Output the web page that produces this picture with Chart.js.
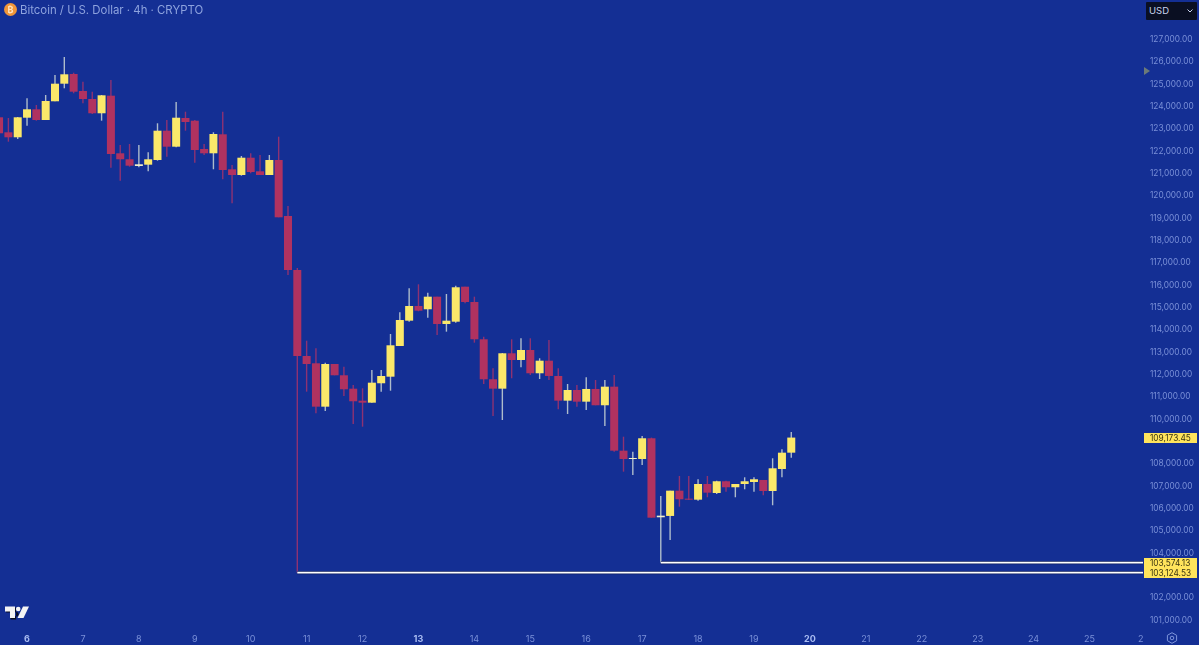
<!DOCTYPE html>
<html><head><meta charset="utf-8">
<script src="https://cdn.jsdelivr.net/npm/chart.js@4/dist/chart.umd.min.js"></script>
<style>
html,body{margin:0;padding:0;background:#142f94;width:1199px;height:645px;overflow:hidden;font-family:Inter,"Open Sans",sans-serif}
#wrap{position:relative;width:1199px;height:645px}
canvas{position:absolute;left:0;top:0}
#title{position:absolute;left:20px;top:3px;font-size:11.4px;line-height:15px;color:#8ea3de;white-space:nowrap}
#btc{position:absolute;left:4px;top:3px;width:13px;height:13px;border-radius:50%;background:#f0963a;color:#ffe3bd;font-size:9px;line-height:13px;text-align:center;font-weight:700}
#usd{position:absolute;left:1146px;top:2px;width:51px;height:18px;background:#0a0f22;color:#c9d3ee;font-size:9.5px;line-height:18px;text-indent:3px;border-radius:1px}
#usd svg{position:absolute;right:4px;top:7px}
#tri{position:absolute;left:1144px;top:67px;width:0;height:0;border-left:6px solid #6c7a78;border-top:4px solid transparent;border-bottom:4px solid transparent}
#tv{position:absolute;left:5px;top:606px}
#gear{position:absolute;left:1166px;top:632px}
</style></head><body>
<div id="wrap">
<canvas id="c" width="1199" height="645"></canvas>
<div id="btc">₿</div>
<div id="title">Bitcoin / U.S. Dollar · 4h · CRYPTO</div>
<div id="usd">USD<svg width="6" height="4" viewBox="0 0 6 4"><path d="M0.5 0.5L3 3L5.5 0.5" stroke="#c9d3ee" fill="none" stroke-width="1"/></svg></div>
<div id="tri"></div>
<svg id="tv" width="25" height="14" viewBox="0 0 25 14"><path d="M0.5 1H10.5V13H5V6H0.5Z M10.8 5.5a2.2 2.2 0 1 0 0.01 0Z" fill="#0a0f22" transform="translate(0.6,0.6)"/><path d="M0 0.5H10V12H5V5.5H0Z" fill="#f4f4f4"/><circle cx="13.2" cy="3" r="2.3" fill="#f4f4f4"/><path d="M18 0.5H24L18.5 12H12.5Z" fill="#f4f4f4"/></svg>
<svg id="gear" width="12" height="12" viewBox="0 0 12 12"><path d="M6 0.7L10.6 3.3V8.7L6 11.3L1.4 8.7V3.3Z" fill="none" stroke="#7f96dc" stroke-width="1"/><circle cx="6" cy="6" r="1.8" fill="none" stroke="#7f96dc" stroke-width="1"/></svg>
</div>
<script>
const opens=[123516,122845,122621,123498,123875,123395,124233,125021,125455,124694,124336,123696,124484,121904,121636,121336,121394,121604,122916,122200,123485,123364,122097,121904,122755,121188,120932,121707,121098,120932,121604,119097,116678,112827,112500,110557,112469,111963,111363,110826,110736,111605,111900,113275,114408,115066,114919,115483,114260,114363,115931,115245,113575,111784,111363,112948,112648,113096,112053,112617,111932,110826,111305,110781,111350,110620,111453,108587,108215,108215,109142,105604,105663,106796,106437,106392,107095,106692,107217,106948,107095,107185,107275,106782,107767,108497];
const closes=[122800,122621,123516,123875,123395,124246,125021,125442,124663,124336,123696,124501,121873,121636,121349,121412,121636,122916,122200,123498,123306,122052,121904,122768,121156,120932,121707,121067,120932,121604,119038,116678,112827,112469,110557,112469,111963,111336,110799,110736,111632,111932,113306,114439,115066,114856,115483,114260,114408,115904,115245,113575,111784,111363,112948,112648,113096,112053,112617,111932,110826,111305,110781,111350,110620,111453,108587,108215,108260,109142,105586,105676,106796,106410,106392,107095,106706,107217,106948,107095,107217,107306,106782,107798,108497,109173.45];
const highs=[123619,123485,123530,124367,124067,124515,125410,126217,125514,125110,124663,124515,125187,122276,122321,122276,121949,123248,123395,124201,123767,123395,122321,122845,123767,121380,121783,121904,121828,121828,122648,119544,116768,113512,113172,112527,112469,112348,111529,111381,112200,112200,113812,114784,115859,116038,115662,115483,115604,115975,115931,115483,113692,112277,112961,113575,113620,113620,112724,113544,112277,111573,111529,111874,111753,111753,111976,109213,108542,109245,109173,106558,106796,107454,107454,107306,107454,107243,107243,107095,107395,107395,107275,108246,108649,109424];
const lows=[122679,122424,122545,123140,123364,123395,124233,124815,124591,124143,123664,123364,121259,120677,121304,121277,121098,121573,121752,122173,122916,121483,121828,121188,120740,119665,120901,121009,120932,120932,119038,116454,103124.53,111229,110261,110364,111963,111036,109782,109661,110736,111229,111273,113275,114363,114829,114543,113768,113916,114319,115187,113423,111573,110141,109961,111829,112321,111976,111797,111753,110440,110230,110557,110409,110620,109693,108542,107646,107498,107946,105586,103574.13,104588,106079,106379,106348,106500,106648,106751,106500,106858,106751,106590,106142,107395,108273];
const dayTickPositions=[3,9,15,21,27,33,39,45,51,57,63,69,75,81,87,93,99,105,111,117,122.5];
const dayTickLabels=["6","7","8","9","10","11","12","13","14","15","16","17","18","19","20","21","22","23","24","25","2"];
const boldDayLabels=["6","13","20"];
const priceTicks=[101000,102000,103000,104000,105000,106000,107000,108000,109000,110000,111000,112000,113000,114000,115000,116000,117000,118000,119000,120000,121000,122000,123000,124000,125000,126000,127000];
const hiddenPriceTicks=[103000,109000];
const lastPrice=109173.45;
const lowMarkA=103574.13, lowMarkB=103124.53;
const lowMarkAStart=71, lowMarkBStart=32;
const priceTags=[lastPrice,lowMarkA,lowMarkB];

const xMin=0.1,xMax=122.74,yMin=100556,yMax=128769;
const RED='#b03260',YEL='#fbe86a',RWICK='#8e3272',YWICK='#aebccb',DOJI='#f3efc8';
const isUp=i=>closes[i]>=opens[i];
const fmt=v=>v.toLocaleString('en-US',{minimumFractionDigits:2,maximumFractionDigits:2});
const tagPlugin={id:'tags',afterDraw(ch){
  const c=ch.ctx,y=ch.scales.y;
  c.save();c.font='8.3px Inter';c.textBaseline='middle';c.textAlign='left';
  priceTags.forEach(v=>{
    const py=y.getPixelForValue(v);
    c.fillStyle='#ffe45c';c.fillRect(1144,Math.round(py)-5,53,10);
    c.fillStyle='#3a3410';c.fillText(fmt(v),1150,Math.round(py)+0.5);
  });
  c.restore();
}};
const noPad=a=>{a.paddingTop=0;a.paddingBottom=0;a.paddingLeft=0;a.paddingRight=0;};
const idx=opens.map((_,i)=>i);
new Chart(document.getElementById('c'),{
  data:{datasets:[
    {type:'line',order:1,data:[{x:lowMarkBStart,y:lowMarkB},{x:xMax,y:lowMarkB}],borderColor:'#ffffff',borderWidth:1.6,pointRadius:0},
    {type:'line',order:1,data:[{x:lowMarkAStart,y:lowMarkA},{x:xMax,y:lowMarkA}],borderColor:'#ffffff',borderWidth:1.6,pointRadius:0},
    {type:'line',order:2,data:[{x:lowMarkBStart,y:lowMarkB},{x:xMax,y:lowMarkB}],borderColor:'#0d1c5e',borderWidth:3.4,pointRadius:0},
    {type:'line',order:2,data:[{x:lowMarkAStart,y:lowMarkA},{x:xMax,y:lowMarkA}],borderColor:'#0d1c5e',borderWidth:3.4,pointRadius:0},
    {type:'bar',order:3,grouped:false,barThickness:8,inflateAmount:0,borderWidth:0,
     data:idx.map(i=>({x:i,y:[opens[i],closes[i]]})),
     backgroundColor:idx.map(i=>{if(!isUp(i))return RED;return Math.abs(closes[i]-opens[i])<110?DOJI:YEL;})},
    {type:'bar',order:4,grouped:false,barThickness:1.4,inflateAmount:0,borderWidth:0,
     data:idx.map(i=>({x:i,y:[lows[i],highs[i]]})),
     backgroundColor:idx.map(i=>isUp(i)?YWICK:RWICK)}
  ]},
  options:{
    responsive:false,animation:false,
    layout:{padding:0},
    plugins:{legend:{display:false},tooltip:{enabled:false}},
    scales:{
      x:{type:'linear',min:xMin,max:xMax,offset:false,
        grid:{display:false,drawTicks:false},border:{display:false},
        afterBuildTicks(a){a.ticks=dayTickPositions.map(v=>({value:v}));},
        afterFit(a){a.height=15;noPad(a);},
        ticks:{autoSkip:false,maxRotation:0,minRotation:0,padding:4,
          callback(v){const k=dayTickPositions.indexOf(v);return k<0?'':dayTickLabels[k];},
          color(ctx){return boldDayLabels.includes(dayTickLabels[ctx.index])?'#a9bcf2':'#7a90d8';},
          font(ctx){return {family:'Inter',size:9,weight:boldDayLabels.includes(dayTickLabels[ctx.index])?'700':'400'};}}},
      y:{type:'linear',position:'right',min:yMin,max:yMax,
        grid:{display:false,drawTicks:false},border:{display:false},
        afterBuildTicks(a){a.ticks=priceTicks.map(v=>({value:v}));},
        afterFit(a){a.width=56;noPad(a);},
        ticks:{autoSkip:false,padding:7,color:'#7a90d8',font:{family:'Inter',size:8.3},
          callback(v){return hiddenPriceTicks.includes(v)?'':fmt(v);}}}
    }
  },
  plugins:[tagPlugin]
});
</script>
</body></html>
